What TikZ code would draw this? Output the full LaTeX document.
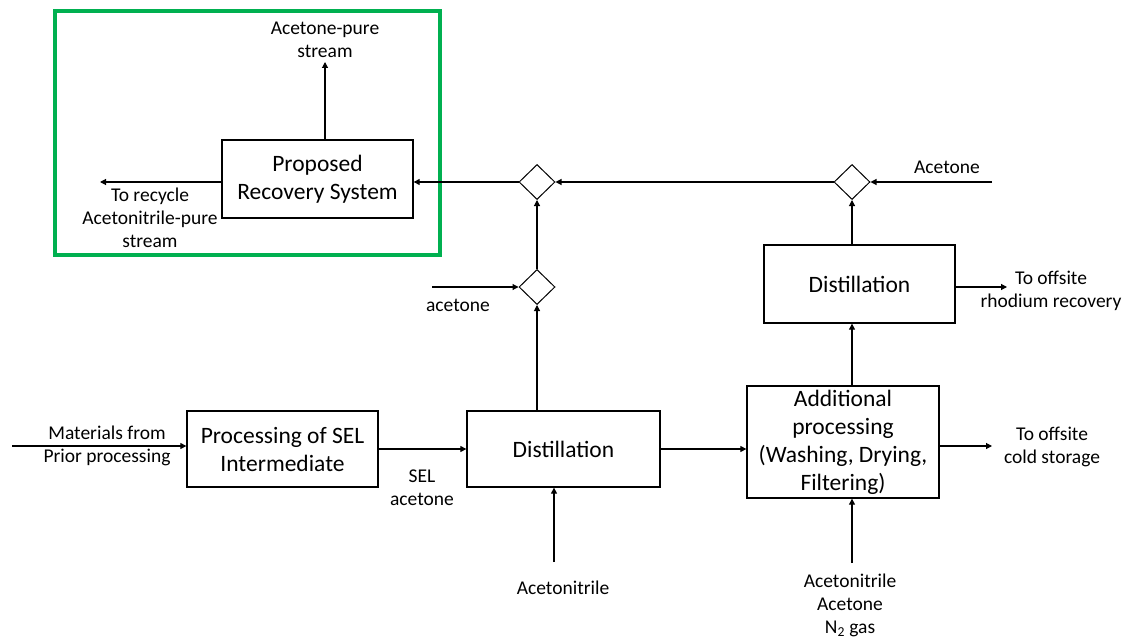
\documentclass[tikz,border=0pt]{standalone}
\usepackage{fontspec}
\setmainfont{Carlito}
\usetikzlibrary{arrows.meta,shapes.geometric,calc}
\definecolor{framegreen}{RGB}{0,176,80}
\begin{document}
\begin{tikzpicture}[x=1pt,y=-1pt,
  box/.style={draw,line width=1.3pt,inner sep=0pt,align=center,font=\fontsize{23.5}{28}\selectfont},
  mix/.style={draw,shape=diamond,line width=1pt,inner sep=0pt,minimum width=36pt,minimum height=35pt},
  lbl/.style={align=center,inner sep=0pt,font=\fontsize{19.5}{23}\selectfont},
  arr/.style={line width=1.1pt,-{Triangle[length=6pt,width=6pt]}},
  frame/.style={draw=framegreen,line width=4pt}]
\useasboundingbox (0,0) rectangle (1131,639);
\fill[white] (0,0) rectangle (1131,639);
% green frame
\draw[frame] (55,11) rectangle (440,255);
% boxes
\node[box,minimum width=191pt,minimum height=78pt] (prs) at (317.5,179) {Proposed\\Recovery System};
\node[box,minimum width=191pt,minimum height=76pt] (proc) at (282.5,449) {Processing of SEL\\Intermediate};
\node[box,minimum width=193pt,minimum height=76pt] (dist1) at (563.5,449) {Distillation};
\node[box,minimum width=192pt,minimum height=112pt] (add) at (843,442) {Additional\\processing\\(Washing, Drying,\\Filtering)};
\node[box,minimum width=191pt,minimum height=78pt] (dist2) at (859.5,284) {Distillation};
% mixers
\node[mix] (d1) at (537,182) {};
\node[mix] (d2) at (537,287) {};
\node[mix] (d3) at (852,182) {};
% free ends
\coordinate (in1) at (12,446);
\coordinate (out1) at (992,446);
\coordinate (acn1) at (554,562);
\coordinate (acn2) at (852,563);
\coordinate (out2) at (1007,287);
\coordinate (acin) at (992,182);
\coordinate (acin2) at (432,287);
\coordinate (top) at (325,62);
\coordinate (left) at (100,182);
% connectors
\draw[arr] (in1) -- (in1 -| proc.west);
\draw[arr] (proc.east) -- (dist1.west);
\draw[arr] (dist1.east) -- (dist1.east -| add.west);
\draw[arr] (add.east |- out1) -- (out1);
\draw[arr] (acn1) -- (acn1 |- dist1.south);
\draw[arr] (acn2) -- (acn2 |- add.south);
\draw[arr] (d3.south |- add.north) -- (d3.south |- dist2.south);
\draw[arr] (d3.south |- dist2.north) -- (d3.south);
\draw[arr] (out2 -| dist2.east) -- (out2);
\draw[arr] (acin) -- (d3.east);
\draw[arr] (d3.west) -- (d1.east);
\draw[arr] (d1.west) -- (d1.west -| prs.east);
\draw[arr] (d2.south |- dist1.north) -- (d2.south);
\draw[arr] (acin2) -- (d2.west);
\draw[arr] (d2.north) -- (d1.south);
\draw[arr] (top |- prs.north) -- (top);
\draw[arr] (left -| prs.west) -- (left);
% labels
\node[lbl] (l1) at (325,40) {Acetone-pure\\stream};
\node[lbl] (l2) at (150,218) {To recycle\\Acetonitrile-pure\\stream};
\node[lbl] (l3) at (458,305) {acetone};
\node[lbl] (l4) at (947,167) {Acetone};
\node[lbl] (l5) at (1051,291) {To offsite\\rhodium recovery};
\node[lbl] (l6) at (1052,447) {To offsite\\cold storage};
\node[lbl] (l7) at (850,605) {Acetonitrile\\Acetone\\N\textsubscript{2} gas};
\node[lbl] (l8) at (563,588) {Acetonitrile};
\node[lbl] (l9) at (107,446) {Materials from\\Prior processing};
\node[lbl] (l10) at (422,488) {SEL\\acetone};
\end{tikzpicture}
\end{document}
